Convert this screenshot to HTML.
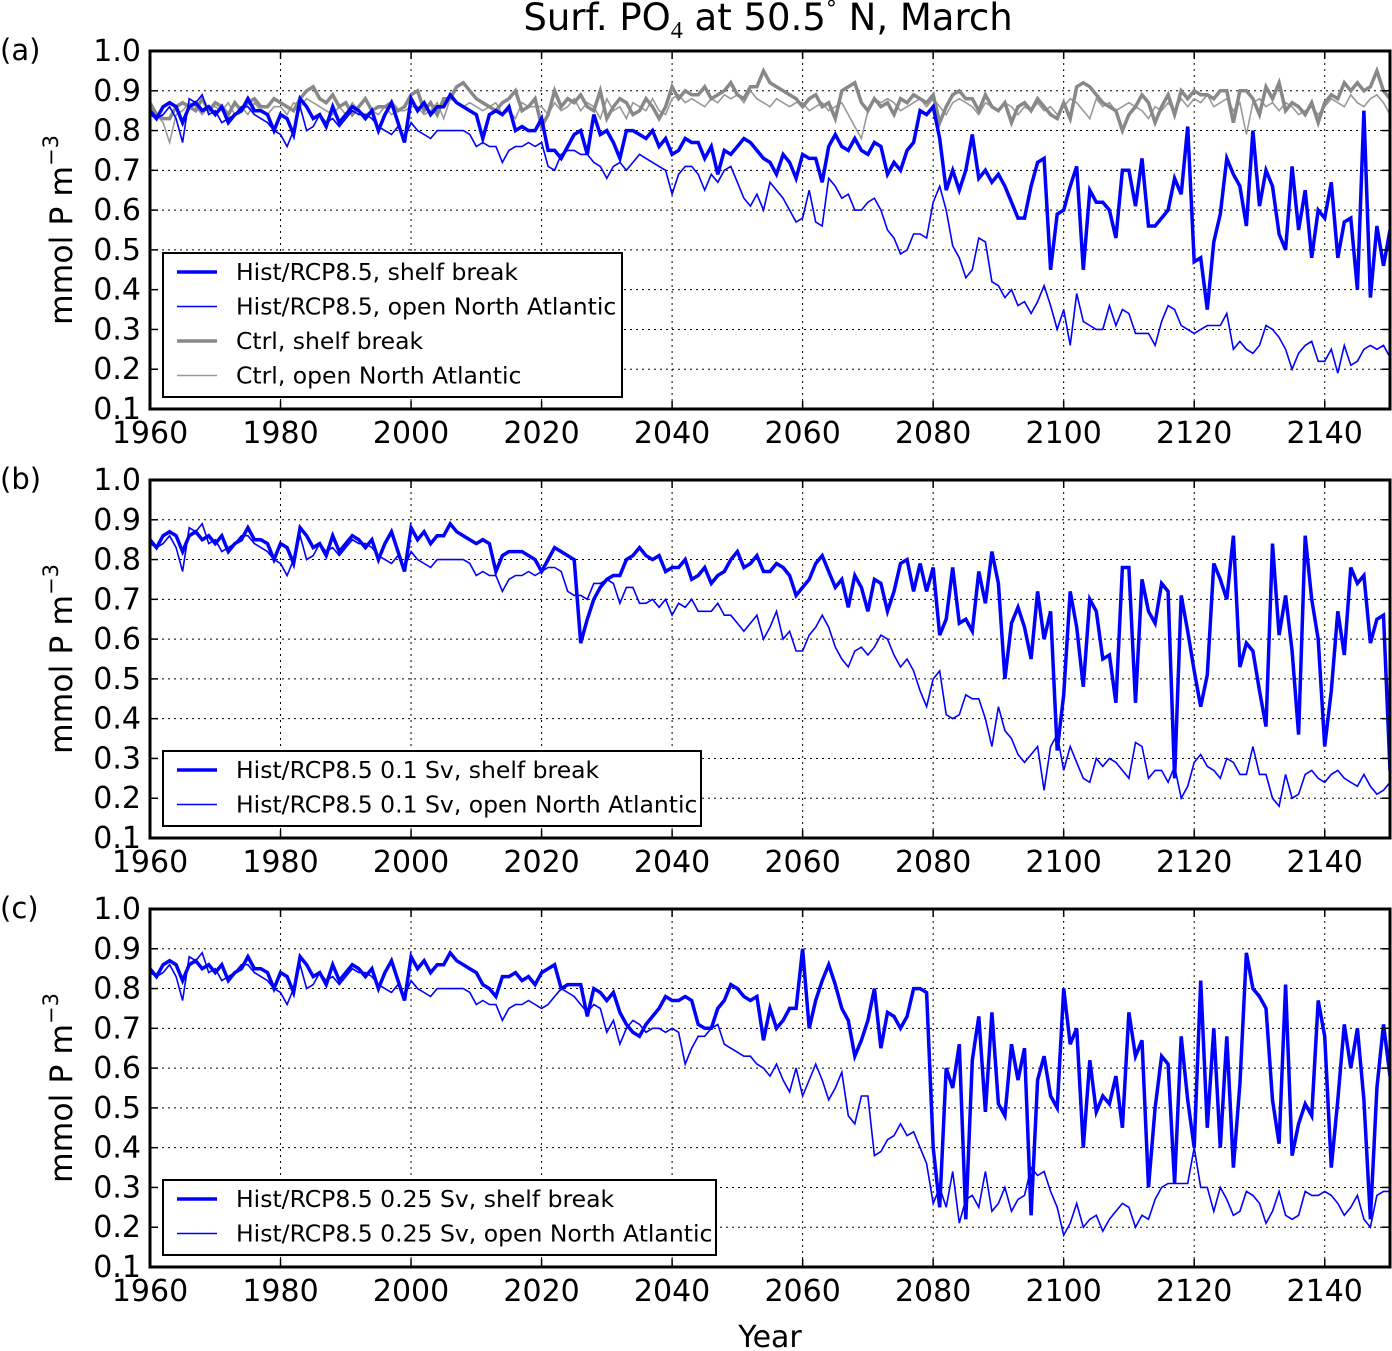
<!DOCTYPE html>
<html><head><meta charset="utf-8">
<style>
html,body{margin:0;padding:0;background:#fff;}
svg{display:block;font-family:"DejaVu Sans","Liberation Sans",sans-serif;}
</style></head>
<body>
<svg id="fig" width="1392" height="1351" viewBox="0 0 1392 1351" xmlns="http://www.w3.org/2000/svg">
<text x="768" y="30" font-size="37" text-anchor="middle">Surf. PO<tspan font-size="24" dy="8" font-family="Liberation Serif,serif">4</tspan><tspan dy="-8"> at 50.5</tspan><tspan font-size="22" dy="-14">°</tspan><tspan dy="14"> N, March</tspan></text>
<text x="770" y="1347" font-size="30" text-anchor="middle">Year</text>
</svg>
<script>
// shared historical values 1960-2009
const histShelf=[.85,.83,.86,.87,.86,.82,.86,.87,.85,.86,.84,.86,.82,.84,.85,.88,.85,.85,.84,.80,.84,.83,.79,.88,.86,.83,.84,.81,.86,.82,.84,.86,.85,.83,.85,.80,.84,.87,.82,.77,.88,.85,.87,.84,.86,.86,.89,.87,.86,.85];
const histOpen=[.84,.83,.84,.86,.83,.77,.88,.87,.89,.84,.85,.82,.83,.84,.86,.86,.84,.83,.82,.80,.79,.76,.80,.86,.80,.81,.84,.82,.83,.81,.83,.85,.84,.84,.83,.81,.80,.79,.81,.78,.82,.80,.79,.78,.80,.80,.80,.80,.80,.79];
// 2010-2150
const aShelf=[.84,.78,.84,.85,.84,.86,.80,.81,.80,.80,.83,.75,.75,.73,.76,.79,.80,.74,.84,.79,.80,.77,.73,.80,.80,.79,.78,.80,.76,.78,.74,.75,.78,.77,.77,.73,.76,.69,.75,.74,.76,.78,.77,.75,.73,.72,.69,.74,.72,.68,.74,.73,.73,.67,.76,.79,.76,.75,.78,.75,.74,.77,.76,.69,.72,.70,.75,.77,.85,.84,.86,.78,.65,.70,.65,.70,.79,.68,.70,.67,.69,.66,.62,.58,.58,.66,.72,.73,.45,.59,.60,.66,.71,.45,.65,.62,.62,.60,.53,.70,.70,.61,.73,.56,.56,.58,.60,.68,.64,.81,.47,.48,.35,.52,.59,.73,.69,.66,.56,.80,.61,.70,.66,.54,.50,.71,.55,.65,.48,.60,.58,.67,.48,.57,.58,.40,.85,.38,.56,.46,.55];
const aOpen=[.76,.77,.76,.76,.72,.75,.76,.76,.77,.76,.77,.71,.70,.74,.75,.75,.74,.74,.72,.71,.68,.71,.72,.70,.72,.74,.73,.72,.71,.70,.64,.69,.71,.71,.69,.65,.69,.67,.70,.71,.67,.63,.61,.64,.60,.67,.65,.63,.60,.57,.58,.65,.57,.56,.68,.66,.63,.64,.60,.60,.62,.63,.60,.55,.53,.49,.50,.54,.54,.53,.62,.66,.60,.51,.48,.43,.45,.53,.52,.42,.41,.38,.40,.36,.37,.34,.37,.41,.36,.30,.35,.26,.39,.32,.31,.30,.30,.36,.31,.35,.34,.29,.29,.29,.26,.32,.36,.35,.31,.30,.29,.30,.31,.31,.31,.34,.25,.27,.25,.24,.26,.31,.30,.28,.25,.20,.24,.26,.27,.22,.22,.25,.19,.26,.21,.22,.25,.26,.25,.26,.23];
// control run 1960-2150
const ctrlShelf=[.87,.84,.83,.83,.86,.87,.86,.85,.88,.85,.87,.86,.84,.87,.85,.87,.88,.86,.86,.88,.87,.86,.85,.88,.90,.91,.88,.87,.89,.86,.87,.84,.86,.88,.85,.86,.86,.87,.85,.86,.89,.90,.85,.87,.84,.88,.88,.91,.92,.90,.88,.87,.86,.85,.87,.88,.90,.85,.86,.88,.81,.84,.90,.86,.88,.87,.89,.86,.85,.90,.83,.86,.88,.87,.84,.85,.88,.86,.83,.86,.91,.88,.90,.89,.89,.91,.88,.89,.90,.92,.89,.88,.91,.91,.95,.92,.91,.90,.89,.88,.86,.88,.89,.86,.87,.83,.90,.91,.92,.87,.85,.88,.86,.87,.84,.88,.87,.89,.88,.87,.89,.82,.86,.89,.90,.88,.88,.85,.89,.86,.85,.87,.82,.86,.87,.85,.88,.86,.84,.83,.87,.83,.91,.92,.91,.89,.87,.86,.85,.80,.84,.86,.89,.87,.82,.86,.89,.84,.90,.88,.90,.89,.89,.88,.90,.90,.82,.90,.90,.88,.84,.91,.88,.92,.85,.87,.86,.84,.87,.82,.87,.89,.88,.92,.90,.92,.90,.91,.95,.90,.88];
const ctrlOpen=[.86,.84,.82,.77,.84,.85,.87,.86,.84,.86,.86,.85,.87,.84,.86,.84,.87,.85,.84,.86,.86,.84,.87,.86,.88,.87,.86,.85,.84,.86,.84,.87,.85,.84,.85,.84,.86,.84,.85,.85,.86,.86,.84,.85,.87,.83,.88,.87,.86,.87,.86,.85,.86,.87,.84,.85,.83,.87,.86,.86,.86,.84,.87,.85,.86,.88,.85,.87,.86,.83,.88,.85,.86,.83,.87,.86,.85,.88,.85,.84,.88,.89,.87,.88,.87,.86,.88,.87,.89,.88,.89,.87,.90,.88,.87,.86,.88,.87,.86,.87,.87,.85,.86,.87,.85,.86,.87,.84,.81,.78,.85,.88,.87,.88,.87,.85,.86,.87,.88,.86,.88,.86,.84,.87,.88,.87,.86,.84,.87,.86,.85,.87,.86,.84,.86,.85,.87,.85,.86,.84,.86,.88,.87,.85,.83,.88,.86,.87,.85,.86,.87,.86,.85,.83,.86,.85,.87,.85,.88,.86,.88,.87,.89,.86,.87,.88,.85,.87,.79,.87,.88,.86,.87,.85,.87,.86,.84,.85,.86,.84,.86,.88,.87,.86,.89,.87,.86,.88,.89,.87,.84];
const bShelf=[.84,.85,.84,.77,.81,.82,.82,.82,.81,.80,.77,.80,.83,.82,.81,.80,.59,.65,.70,.73,.75,.76,.76,.80,.81,.83,.81,.80,.81,.77,.78,.78,.80,.75,.76,.78,.74,.76,.77,.80,.82,.78,.79,.81,.77,.77,.79,.78,.76,.71,.73,.75,.79,.81,.77,.73,.75,.68,.76,.73,.67,.75,.74,.67,.72,.79,.80,.72,.79,.72,.78,.61,.65,.78,.64,.65,.62,.77,.69,.82,.74,.50,.64,.68,.63,.55,.72,.60,.67,.32,.46,.72,.63,.48,.70,.67,.55,.56,.44,.78,.78,.44,.75,.67,.64,.74,.72,.25,.71,.62,.52,.43,.51,.79,.75,.70,.86,.53,.59,.57,.47,.38,.84,.61,.71,.57,.36,.86,.70,.60,.33,.47,.67,.56,.78,.74,.76,.59,.65,.66,.27];
const bOpen=[.76,.77,.76,.76,.72,.75,.76,.76,.77,.76,.77,.78,.78,.77,.72,.71,.71,.70,.74,.74,.75,.74,.69,.73,.73,.69,.69,.70,.68,.70,.66,.69,.68,.70,.67,.67,.67,.69,.66,.66,.64,.62,.64,.66,.60,.63,.67,.60,.62,.57,.57,.61,.63,.66,.63,.58,.55,.53,.57,.58,.56,.58,.61,.60,.56,.53,.55,.52,.47,.43,.50,.52,.41,.40,.41,.46,.45,.45,.40,.33,.43,.37,.35,.31,.29,.31,.33,.22,.33,.36,.27,.33,.29,.25,.24,.30,.28,.30,.29,.27,.25,.34,.33,.25,.27,.27,.24,.28,.20,.23,.29,.31,.28,.27,.25,.30,.29,.26,.26,.33,.26,.26,.20,.18,.26,.20,.21,.26,.27,.25,.24,.26,.27,.25,.24,.23,.26,.23,.21,.22,.24];
const cShelf=[.84,.81,.80,.78,.83,.83,.84,.82,.83,.81,.84,.85,.86,.80,.81,.81,.81,.73,.80,.79,.77,.79,.74,.71,.69,.68,.71,.73,.75,.78,.77,.77,.78,.77,.71,.70,.70,.75,.77,.81,.80,.78,.77,.78,.67,.75,.70,.72,.75,.75,.90,.70,.77,.82,.86,.81,.75,.72,.63,.67,.72,.80,.65,.74,.73,.70,.73,.80,.80,.79,.40,.25,.60,.55,.66,.22,.62,.73,.49,.74,.51,.48,.66,.57,.65,.23,.57,.63,.53,.50,.80,.66,.70,.40,.62,.49,.53,.51,.58,.45,.74,.63,.67,.30,.50,.63,.61,.31,.68,.52,.40,.82,.45,.70,.40,.68,.35,.56,.89,.80,.78,.75,.52,.41,.81,.38,.46,.51,.48,.77,.68,.35,.52,.71,.60,.70,.52,.22,.55,.71,.58];
const cOpen=[.76,.77,.76,.76,.72,.75,.76,.76,.77,.76,.75,.76,.78,.80,.79,.78,.76,.74,.76,.75,.69,.72,.66,.70,.72,.71,.69,.70,.70,.69,.70,.69,.61,.65,.68,.68,.70,.71,.66,.65,.64,.63,.63,.61,.60,.58,.61,.57,.54,.60,.53,.57,.61,.57,.52,.55,.59,.48,.46,.53,.53,.38,.39,.42,.43,.46,.43,.44,.40,.36,.26,.30,.25,.34,.21,.27,.28,.25,.34,.24,.26,.30,.24,.27,.28,.35,.33,.34,.29,.25,.18,.21,.26,.20,.22,.23,.19,.22,.24,.26,.25,.20,.23,.22,.27,.30,.31,.31,.31,.31,.40,.30,.30,.24,.30,.27,.23,.24,.29,.28,.26,.21,.24,.29,.23,.22,.23,.29,.28,.28,.29,.28,.26,.23,.25,.28,.22,.20,.28,.29,.29];
const xTicks=[1960,1980,2000,2020,2040,2060,2080,2100,2120,2140];
const yTicks=[0.1,0.2,0.3,0.4,0.5,0.6,0.7,0.8,0.9,1.0];

const NS="http://www.w3.org/2000/svg";
const svg=document.getElementById('fig');
const X0=150,X1=1390,Y0=1960,Y1=2150;
function xs(yr){return X0+(yr-Y0)/(Y1-Y0)*(X1-X0);}
function mk(tag,attrs,parent){const e=document.createElementNS(NS,tag);for(const k in attrs)e.setAttribute(k,attrs[k]);(parent||svg).appendChild(e);return e;}

const panels=[
 {id:'a',top:51,series:[
   {name:'ctrl-open',vals:ctrlOpen,color:'#999999',w:1.6,label:'Ctrl, open North Atlantic'},
   {name:'ctrl-shelf',vals:ctrlShelf,color:'#888888',w:3.5,label:'Ctrl, shelf break'},
   {name:'rcp-open',vals:histOpen.concat(aOpen),color:'#0000ff',w:1.6,label:'Hist/RCP8.5, open North Atlantic'},
   {name:'rcp-shelf',vals:histShelf.concat(aShelf),color:'#0000ff',w:3.5,label:'Hist/RCP8.5, shelf break'}],
  legendOrder:[3,2,1,0],legend:{x:163,y:253,w:459,h:144}},
 {id:'b',top:480,series:[
   {name:'sv01-open',vals:histOpen.concat(bOpen),color:'#0000ff',w:1.6,label:'Hist/RCP8.5 0.1 Sv, open North Atlantic'},
   {name:'sv01-shelf',vals:histShelf.concat(bShelf),color:'#0000ff',w:3.5,label:'Hist/RCP8.5 0.1 Sv, shelf break'}],
  legendOrder:[1,0],legend:{x:163,y:751,w:538,h:75}},
 {id:'c',top:909,series:[
   {name:'sv025-open',vals:histOpen.concat(cOpen),color:'#0000ff',w:1.6,label:'Hist/RCP8.5 0.25 Sv, open North Atlantic'},
   {name:'sv025-shelf',vals:histShelf.concat(cShelf),color:'#0000ff',w:3.5,label:'Hist/RCP8.5 0.25 Sv, shelf break'}],
  legendOrder:[1,0],legend:{x:163,y:1180,w:553,h:75}}
];

panels.forEach(p=>{
  const top=p.top,bot=top+358;
  const ys=v=>bot-(v-0.1)/0.9*(bot-top);
  const g=mk('g',{});
  
  
  const cp=mk('clipPath',{id:'clip'+p.id},g);
  mk('rect',{x:X0,y:top,width:X1-X0,height:bot-top},cp);
  xTicks.forEach(t=>{
    if(t===1960)return;
    const l=mk('line',{x1:xs(t),x2:xs(t),y1:top,y2:bot,stroke:'#000','stroke-width':1,'stroke-dasharray':'2,4'},g);
    
    
  });
  yTicks.forEach(t=>{
    if(t<=0.1||t>=1.0)return;
    const l=mk('line',{x1:X0,x2:X1,y1:ys(t),y2:ys(t),stroke:'#000','stroke-width':1,'stroke-dasharray':'2,4'},g);
    
    
  });
  const sg=mk('g',{'clip-path':'url(#clip'+p.id+')'},g);
  p.series.forEach(s=>{
    const pts=s.vals.map((v,i)=>xs(Y0+i).toFixed(1)+','+ys(v).toFixed(1)).join(' ');
    const pl=mk('polyline',{points:pts,fill:'none',stroke:s.color,'stroke-width':s.w,'stroke-linejoin':'miter'},sg);
    
    
  });
  xTicks.forEach(t=>{
    mk('line',{x1:xs(t),x2:xs(t),y1:bot,y2:bot-8,stroke:'#000','stroke-width':1.5},g);
    mk('line',{x1:xs(t),x2:xs(t),y1:top,y2:top+8,stroke:'#000','stroke-width':1.5},g);
    const tx=mk('text',{x:xs(t),y:bot+34,'font-size':30,'text-anchor':'middle'},g);
    tx.textContent=t;
    
    
  });
  yTicks.forEach(t=>{
    mk('line',{x1:X0,x2:X0+8,y1:ys(t),y2:ys(t),stroke:'#000','stroke-width':1.5},g);
    mk('line',{x1:X1,x2:X1-8,y1:ys(t),y2:ys(t),stroke:'#000','stroke-width':1.5},g);
    const tx=mk('text',{x:141,y:ys(t)+10,'font-size':30,'text-anchor':'end'},g);
    tx.textContent=t.toFixed(1);
    
    
  });
  const fr=mk('rect',{x:X0,y:top,width:X1-X0,height:bot-top,fill:'none',stroke:'#000','stroke-width':3},g);
  
  
  const yl=mk('text',{transform:'translate(72,'+(top+(bot-top)/2)+') rotate(-90)','font-size':31.5,'text-anchor':'middle'},g);
  yl.innerHTML='mmol P m<tspan font-size="21" dy="-14">−3</tspan>';
  
  
  const pl=mk('text',{x:0,y:top+9,'font-size':29},g);
  pl.textContent='('+p.id+')';
  
  
  const L=p.legend;
  const lg=mk('g',{},g);
  
  
  mk('rect',{x:L.x,y:L.y,width:L.w,height:L.h,fill:'#fff',stroke:'#000','stroke-width':2},lg);
  p.legendOrder.forEach((si,k)=>{
    const s=p.series[si];
    const yy=L.y+19+k*34.5;
    const e=mk('g',{},lg);
    
    
    mk('line',{x1:L.x+14,x2:L.x+54,y1:yy,y2:yy,stroke:s.color,'stroke-width':s.w},e);
    const t=mk('text',{x:L.x+73,y:yy+8,'font-size':23.5},e);
    t.textContent=s.label;
  });
});
</script>
</body></html>
